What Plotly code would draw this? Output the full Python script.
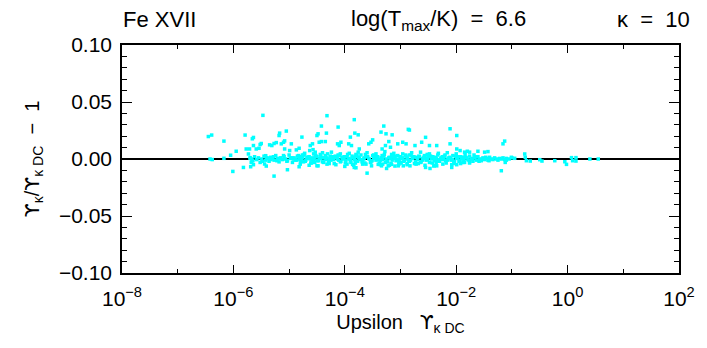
import numpy as np
import plotly.graph_objects as go

# ---- data (log10 of Upsilon_kappa_DC, and relative difference) ----
# outlying points
out_logx = [-6.45, -6.39, -6.42, -6.38, -6.17, -6.17, -6.05, -6.01, -5.95, -5.79, -5.82,
            -5.77, -5.71, -5.73, -5.70, -5.67, -5.68, -5.65, -5.69, -5.64, -5.66, -5.64,
            -5.64, -5.59, -5.52, -5.50, -5.54, -5.47, -5.48, -5.44, -5.41, -5.39, -5.42,
            -5.35, -5.31, -5.27, -5.23, -5.27, -5.17, -5.18, -5.05, -5.14, -5.10, -5.08,
            -5.03, -4.96, -5.08, -4.99, -4.87, -4.82, -4.77, -4.82, -4.75, -4.67, -4.62,
            -4.58, -4.63, -4.57, -4.53, -4.50, -4.48, -4.42, -4.50, -4.54, -4.46, -4.42,
            -4.35, -4.32, -4.33, -4.12, -4.13, -4.10, -4.07, -3.93, -3.88, -3.90, -3.83,
            -3.82, -3.86, -3.83, -3.81, -3.80, -3.76, -3.74, -3.60, -3.57, -3.53, -3.50,
            -3.35, -3.30, -3.26, -3.33, -3.27, -3.21, -3.15, -3.18, -3.40, -3.34, -3.25,
            -3.22, -3.16, -3.10, -3.05, -2.96, -2.90, -2.84, -2.86, -3.03, -2.95, -2.88,
            -2.83, -2.74, -2.62, -2.55, -2.48, -2.35, -2.55, -2.47, -2.40, -2.35, -2.11,
            -1.99, -2.11, -1.99, -1.93, -1.85, -1.80, -1.76, -1.61, -1.49, -1.43, -2.08,
            -1.99, -1.88, -1.76, -1.19, -1.16, -1.13, -1.12, -1.10, -1.01, -0.95, -0.77,
            -0.76, -0.74, -0.67, -0.50, -0.46, -0.23, -0.05, -0.02, 0.07, 0.09, 0.15,
            0.15, 0.40, 0.55]
out_y = [0.0197, 0.0210, 0.0000, -0.0005, 0.0157, 0.0006, 0.0033, -0.0109, 0.0068, 0.0210,
         -0.0074, 0.0088, 0.0088, 0.0044, 0.0012, 0.0000, -0.0030, -0.0015, -0.0068, -0.0050,
         0.0177, 0.0189, 0.0118, 0.0088, 0.0127, 0.0136, 0.0094, 0.0383, -0.0020, -0.0044,
         -0.0062, 0.0006, 0.0029, 0.0124, 0.0118, 0.0136, 0.0144, -0.0150, 0.0227, 0.0206,
         0.0245, 0.0133, 0.0147, 0.0159, -0.0094, 0.0133, 0.0088, 0.0074, 0.0080, 0.0094,
         0.0192, -0.0068, 0.0029, 0.0015, 0.0118, 0.0133, 0.0074, 0.0082, 0.0060, 0.0206,
         0.0221, 0.0289, -0.0059, -0.0030, 0.0147, 0.0153, 0.0153, 0.0380, 0.0227, 0.0280,
         0.0133, 0.0118, 0.0147, 0.0133, 0.0118, 0.0192, 0.0345, 0.0227, -0.0047, -0.0074,
         -0.0035, -0.0077, 0.0212, 0.0088, -0.0124, 0.0133, 0.0147, 0.0168, 0.0236, 0.0289,
         0.0221, 0.0088, 0.0118, 0.0153, 0.0212, 0.0103, -0.0047, -0.0060, -0.0083, -0.0060,
         -0.0047, -0.0062, 0.0133, 0.0147, 0.0133, 0.0254, 0.0260, -0.0047, -0.0060, -0.0040,
         -0.0060, 0.0118, 0.0147, 0.0190, 0.0118, 0.0118, -0.0074, -0.0083, -0.0060, -0.0060,
         0.0265, 0.0206, 0.0133, 0.0088, 0.0074, 0.0060, 0.0068, 0.0060, 0.0068, 0.0060,
         0.0065, -0.0074, -0.0050, -0.0030, -0.0024, -0.0103, 0.0133, 0.0157, -0.0030, -0.0010,
         0.0015, 0.0006, 0.0044, 0.0015, -0.0015, -0.0018, -0.0006, -0.0018, -0.0015, -0.0024,
         -0.0047, 0.0012, -0.0015, 0.0012, -0.0018, 0.0000, 0.0000]

# dense band of points close to zero
core_logx = [-5.70, -5.66, -5.62, -5.58, -5.55, -5.52, -5.49, -5.45, -5.42, -5.39, -5.36, -5.33,
             -5.30, -5.27, -5.24, -5.21, -5.18, -5.15, -5.12, -5.09, -5.06, -5.03, -5.00, -4.97,
             -4.94, -4.91, -4.88, -4.85, -4.82, -4.79, -4.76, -4.73, -4.70, -4.67, -4.64, -4.61,
             -4.58, -4.55, -4.52, -4.49, -4.46, -4.43, -4.40, -4.37, -4.34, -4.31, -4.28, -4.25,
             -4.22, -4.19, -4.16, -4.13, -4.10, -4.07, -4.04, -4.01, -3.98, -3.95, -3.92, -3.89,
             -3.86, -3.83, -3.80, -3.77, -3.74, -3.71, -3.68, -3.65, -3.62, -3.59, -3.56, -3.53,
             -3.50, -3.47, -3.44, -3.41, -3.38, -3.35, -3.32, -3.29, -3.26, -3.23, -3.20, -3.17,
             -3.14, -3.11, -3.08, -3.05, -3.02, -2.99, -2.96, -2.93, -2.90, -2.87, -2.84, -2.81,
             -2.78, -2.75, -2.72, -2.69, -2.66, -2.63, -2.60, -2.57, -2.54, -2.51, -2.48, -2.45,
             -2.42, -2.39, -2.36, -2.33, -2.30, -2.27, -2.24, -2.21, -2.18, -2.15, -2.12, -2.09,
             -2.06, -2.03, -2.00, -1.97, -1.94, -1.91, -1.88, -1.85, -1.82, -1.79, -1.76, -1.73,
             -1.70, -1.67, -1.64, -1.61, -1.58, -1.55, -1.52, -1.49, -1.46, -1.43, -1.40, -1.37,
             -1.34, -1.31, -1.28, -1.25, -1.22, -1.19, -1.16, -1.13, -1.10, -1.05, -1.00,
             -5.40, -5.34, -5.28, -5.22, -5.16, -5.10, -5.04, -4.98, -4.92, -4.86, -4.80, -4.74,
             -4.68, -4.62, -4.56, -4.50, -4.44, -4.38, -4.32, -4.26, -4.20, -4.14, -4.08, -4.02,
             -3.96, -3.90, -3.84, -3.78, -3.72, -3.66, -3.60, -3.54, -3.48, -3.42, -3.36, -3.30,
             -3.24, -3.18, -3.12, -3.06, -3.00, -2.94, -2.88, -2.82, -2.76, -2.70, -2.64, -2.58,
             -2.52, -2.46, -2.40, -2.34, -2.28, -2.22, -2.16, -2.10, -2.04, -1.98, -1.92, -1.86,
             -4.95, -4.89, -4.83, -4.77, -4.71, -4.65, -4.59, -4.53, -4.47, -4.41, -4.35, -4.29,
             -4.23, -4.17, -4.11, -4.05, -3.99, -3.93, -3.87, -3.81, -3.75, -3.69, -3.63, -3.57,
             -3.51, -3.45, -3.39, -3.33, -3.27, -3.21, -3.15, -3.09, -3.03, -2.97, -2.91, -2.85,
             -2.79, -2.73, -2.67, -2.61, -2.55, -2.49, -2.43, -2.37, -2.31, -2.25, -2.19, -2.13,
             -2.07, -2.01, -1.95, -1.89, -1.83, -1.77, -1.71, -1.65, -1.59, -1.53, -1.47, -1.41]
core_y_milli = [0.5, -1.5, 2.0, -0.5, 1.0, -3.0, 0.0, 2.5, -1.0, 0.5, -2.0, 1.5,
                0.0, -1.0, 3.0, 0.5, -2.5, 1.0, -0.5, 2.0, 0.0, -1.5, 3.5, 0.5,
                -3.0, 1.0, -0.5, 2.5, 0.0, -2.0, 1.5, 4.0, -1.0, 0.5, 2.0, -3.5,
                1.0, 0.0, 3.0, -1.5, 0.5, 2.5, -2.5, 1.0, -0.5, 4.5, 0.0, -1.0,
                2.0, -4.0, 1.5, 0.0, 3.0, -2.0, 0.5, 2.0, -1.0, 4.0, 0.0, -3.0,
                1.5, -0.5, 2.5, -2.0, 0.5, 3.5, -1.5, 1.0, -4.5, 2.0, 0.0, -2.5,
                3.0, 0.5, -1.0, 2.0, -3.5, 1.0, -0.5, 4.0, 0.0, -2.0, 1.5, -4.0,
                2.5, 0.5, -1.5, 3.0, 0.0, -3.0, 1.0, -1.0, 2.5, 0.0, -2.0, 3.5,
                0.5, -4.0, 1.5, -0.5, 2.0, -2.5, 0.5, 3.0, -1.0, 1.0, -3.0, 0.0,
                2.0, -1.5, 0.5, 3.5, -2.0, 1.0, -0.5, 2.5, -3.5, 0.0, 1.5, -1.0,
                3.0, -2.0, 0.5, 2.0, -1.5, 0.0, 1.5, -3.0, 1.0, -0.5, 2.5, 0.0,
                -2.0, 1.0, -1.0, 2.0, 0.0, -1.5, 1.0, -0.5, 0.5, -1.0, 1.5, 0.0,
                -0.5, 1.0, 0.0, -1.0, 0.5, 0.0, 1.0, -0.5, 0.5, 0.0, 1.0,
                1.0, -0.5, 2.0, -1.5, 0.5, 3.0, -2.0, 1.0, 0.0, -1.0, 2.0, -2.5,
                1.5, 0.0, -1.0, 2.0, 0.5, -3.0, 1.0, 2.5, -0.5, 1.0, -2.5, 0.0,
                2.0, -1.5, 1.0, 3.0, -0.5, 0.0, 2.0, -3.0, 1.5, 0.0, -1.0, 2.5,
                -2.5, 0.5, 1.5, -0.5, 2.0, -2.0, 1.0, -1.0, 2.0, 0.0, -3.0, 1.5,
                -0.5, 2.5, 0.5, -2.0, 0.0, 1.5, -1.0, 0.5, -2.5, 1.0, 2.0, -0.5,
                1.0, -1.0, 3.0, 0.0, -2.0, 1.0, -0.5, 2.0, -1.5, 1.0, 3.0, -2.0,
                0.5, 2.5, -1.0, 1.5, -3.5, 0.5, 2.5, -1.0, 1.5, -2.5, 4.0, 0.5,
                -1.5, 2.0, -0.5, 3.0, -3.0, 1.0, -1.0, 2.5, -2.5, 0.5, 3.5, -1.5,
                1.0, -2.5, 2.5, -1.0, 0.5, 3.0, -3.5, 1.5, -0.5, 2.0, -1.5, 1.0,
                -0.5, 2.5, -2.0, 0.5, 1.5, -1.0, 0.5, 2.0, -2.0, 0.0, 1.5, -1.5]

# wider part of the band
wide_logx = [-4.80, -4.72, -4.64, -4.56, -4.48, -4.40, -4.32, -4.24, -4.16, -4.08, -4.00, -3.92,
             -3.84, -3.76, -3.68, -3.60, -3.52, -3.44, -3.36, -3.28, -3.20, -3.12, -3.04, -2.96,
             -2.88, -2.80, -2.72, -2.64, -2.56, -2.48, -2.40, -2.32, -2.24, -2.16, -2.08, -2.00,
             -1.92, -1.84, -1.76, -1.68,
             -4.76, -4.60, -4.44, -4.28, -4.12, -3.96, -3.80, -3.64, -3.48, -3.32, -3.16, -3.00,
             -2.84, -2.68, -2.52, -2.36, -2.20, -2.04]
wide_y_milli = [-4.5, 5.0, -5.5, 4.5, -6.0, 5.5, -4.5, 6.0, -5.0, 4.5, -6.5, 5.0,
                -5.5, 6.0, -4.5, 5.5, -6.0, 4.5, -5.0, 6.5, -5.5, 5.0, -6.0, 4.5,
                -5.0, 5.5, -4.5, 6.0, -5.5, 4.5, -6.0, 5.0, -4.5, 5.5, -5.0, 4.5,
                -4.0, 4.0, -3.5, 3.5,
                3.5, -3.5, 4.0, -4.0, 3.5, -4.5, 4.0, -3.5, 3.5, -4.5, 4.0, -3.5,
                3.5, -4.0, 4.0, -3.5, 3.5, -4.0]

x_tick_vals = [1e-8, 1e-6, 1e-4, 1e-2, 1e0, 1e2]
x_tick_text = ["10<sup>−8</sup>", "10<sup>−6</sup>", "10<sup>−4</sup>",
               "10<sup>−2</sup>", "10<sup>0</sup>", "10<sup>2</sup>"]
x_minor_vals = [1e-7, 1e-5, 1e-3, 1e-1, 1e1]
y_tick_vals = [-0.10, -0.05, 0.0, 0.05, 0.10]

x_all = np.power(10.0, np.array(out_logx + core_logx + wide_logx))
y_all = np.array(out_y + [v / 1000.0 for v in core_y_milli + wide_y_milli])

FONT = "Liberation Sans"
UPS = '<span style="font-family:DejaVu Sans">ϒ</span>'

fig = go.Figure()
fig.add_trace(go.Scatter(
    x=x_all, y=y_all, mode="markers",
    marker=dict(symbol="square", size=3.5, color="#00FFFF", line=dict(width=0)),
    showlegend=False, hoverinfo="skip"))

fig.update_layout(
    width=707, height=348,
    margin=dict(l=122, r=25, t=45, b=75),
    paper_bgcolor="white", plot_bgcolor="white",
    font=dict(family=FONT, size=22, color="black"),
    xaxis=dict(
        type="log", range=[-8, 2],
        tickvals=x_tick_vals, ticktext=x_tick_text,
        ticks="inside", ticklen=8, tickwidth=1.2, tickcolor="black",
        minor=dict(tickvals=x_minor_vals, ticks="inside", ticklen=4,
                   tickwidth=1.2, tickcolor="black", showgrid=False),
        showline=True, linecolor="black", linewidth=1.5, mirror="allticks",
        showgrid=False, zeroline=False,
        tickfont=dict(family=FONT, size=21),
        ticklabelstandoff=6,
        title=dict(text="Upsilon   " + UPS + "<sub>κ DC</sub>", font=dict(family=FONT, size=20),
                   standoff=6),
    ),
    yaxis=dict(
        range=[-0.10, 0.10],
        tickvals=y_tick_vals, tickformat=".2f",
        ticks="inside", ticklen=10, tickwidth=1.2, tickcolor="black",
        minor=dict(dtick=0.01, ticks="inside", ticklen=5, tickwidth=1.2,
                   tickcolor="black", showgrid=False),
        showline=True, linecolor="black", linewidth=1.5, mirror="allticks",
        showgrid=False,
        zeroline=True, zerolinecolor="black", zerolinewidth=2,
        tickfont=dict(family=FONT, size=21),
        ticklabelstandoff=4,
        title=dict(text=UPS + "<sub>κ</sub>/" + UPS + "<sub>κ DC</sub>  −  1",
                   font=dict(family=FONT, size=20), standoff=14),
    ),
)

fig.add_annotation(text="Fe XVII", x=0.068, y=1.11, xref="paper", yref="paper",
                   xanchor="center", yanchor="middle", showarrow=False,
                   font=dict(family=FONT, size=22))
fig.add_annotation(text="log(T<sub>max</sub>/K)  =  6.6", x=0.568, y=1.11,
                   xref="paper", yref="paper", xanchor="center", yanchor="middle",
                   showarrow=False, font=dict(family=FONT, size=22))
fig.add_annotation(text="κ  =  10", x=0.955, y=1.11, xref="paper", yref="paper",
                   xanchor="center", yanchor="middle", showarrow=False,
                   font=dict(family=FONT, size=22))

fig.write_html("out.html")
